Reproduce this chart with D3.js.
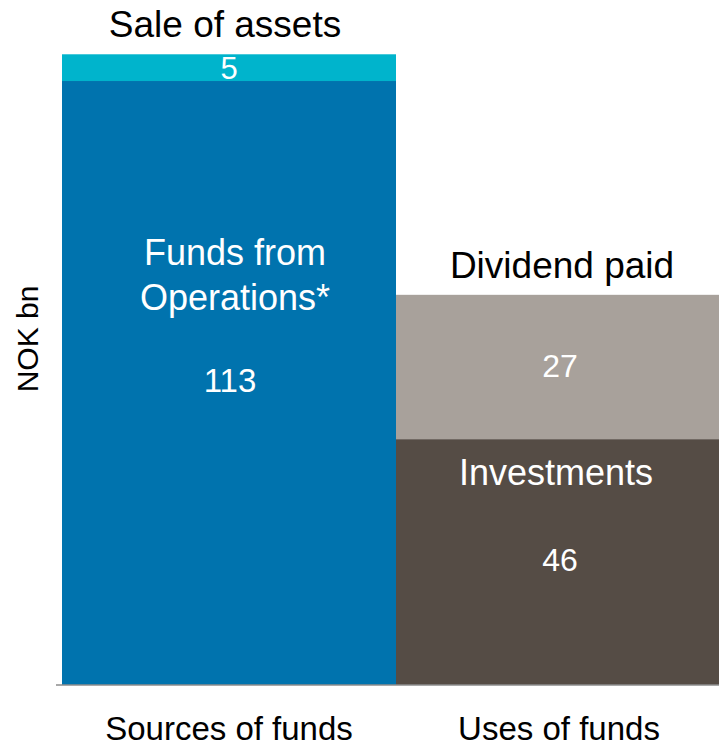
<!DOCTYPE html>
<html>
<head>
<meta charset="utf-8">
<script src="https://cdn.jsdelivr.net/npm/d3@7"></script>
<style>
  html, body { margin: 0; padding: 0; background: #fff; }
  svg { display: block; font-family: 'Liberation Sans', Arial, sans-serif; }
</style>
</head>
<body>
<svg id="chart" width="719" height="747"></svg>
<script>
const categories = ['Sources of funds', 'Uses of funds'];
const sourceLabels = ['Funds from|Operations*', 'Sale of assets'];
const sourceValues = [113, 5];
const useLabels = ['Investments', 'Dividend paid'];
const useValues = [46, 27];

const colors = {
  'Funds from|Operations*': '#0073ae',
  'Sale of assets': '#00b4cc',
  'Investments': '#554c45',
  'Dividend paid': '#a8a19b',
};

const svg = d3.select('#chart');
const W = 719;

const x = d3.scaleBand().domain(categories).range([62, 730]).padding(0);
const y = d3.scaleLinear().domain([0, 120]).range([685, 685 - 120 * 5.345]);

// stacked segments per category
function stackSegments(cat, labels, values) {
  let base = 0;
  return labels.map((label, i) => {
    const seg = { cat, label, value: values[i], y0: base, y1: base + values[i] };
    base += values[i];
    return seg;
  });
}

const segments = [
  ...stackSegments(categories[0], sourceLabels, sourceValues),
  ...stackSegments(categories[1], useLabels, useValues),
];

svg.append('g')
  .selectAll('rect')
  .data(segments)
  .join('rect')
  .attr('x', (d) => x(d.cat))
  .attr('width', x.bandwidth())
  .attr('y', (d) => y(d.y1))
  .attr('height', (d) => y(d.y0) - y(d.y1))
  .attr('fill', (d) => colors[d.label]);

// baseline
svg.append('line')
  .attr('x1', 56).attr('x2', W)
  .attr('y1', y(0)).attr('y2', y(0))
  .attr('stroke', '#8c8c8c')
  .attr('stroke-width', 1.5);

const labels = svg.append('g').attr('text-anchor', 'middle');

segments.forEach((d) => {
  const cx = x(d.cat) + x.bandwidth() / 2;
  const top = y(d.y1);
  const mid = (y(d.y0) + y(d.y1)) / 2;
  if (d.label === 'Sale of assets') {
    labels.append('text').attr('x', cx - 4).attr('y', top - 17)
      .attr('font-size', 37).attr('fill', '#000').text(d.label);
    labels.append('text').attr('x', cx).attr('y', mid + 11)
      .attr('font-size', 31).attr('fill', '#fff').text(d.value);
  } else if (d.label === 'Dividend paid') {
    labels.append('text').attr('x', cx - 1).attr('y', top - 17)
      .attr('font-size', 37).attr('fill', '#000').text(d.label);
    labels.append('text').attr('x', cx - 3).attr('y', mid + 10)
      .attr('font-size', 32).attr('fill', '#fff').text(d.value);
  } else if (d.label === 'Investments') {
    labels.append('text').attr('x', cx - 7).attr('y', top + 46)
      .attr('font-size', 36).attr('fill', '#fff').text(d.label);
    labels.append('text').attr('x', cx - 3).attr('y', top + 132)
      .attr('font-size', 32).attr('fill', '#fff').text(d.value);
  } else {
    const lines = d.label.split('|');
    lines.forEach((ln, i) => {
      labels.append('text').attr('x', cx + 6).attr('y', top + 184 + i * 45)
        .attr('font-size', 36).attr('fill', '#fff').text(ln);
    });
    labels.append('text').attr('x', cx + 1).attr('y', top + 311)
      .attr('font-size', 33).attr('fill', '#fff').text(d.value);
  }
});

// category labels
svg.append('g')
  .attr('text-anchor', 'middle')
  .selectAll('text')
  .data(categories)
  .join('text')
  .attr('x', (d, i) => x(d) + x.bandwidth() / 2 - (i === 1 ? 4 : 0))
  .attr('y', 740)
  .attr('font-size', 33)
  .attr('fill', '#000')
  .text((d) => d);

// y axis title
svg.append('text')
  .attr('transform', 'translate(38,339) rotate(-90)')
  .attr('text-anchor', 'middle')
  .attr('font-size', 30)
  .attr('fill', '#000')
  .text('NOK bn');
</script>
</body>
</html>
